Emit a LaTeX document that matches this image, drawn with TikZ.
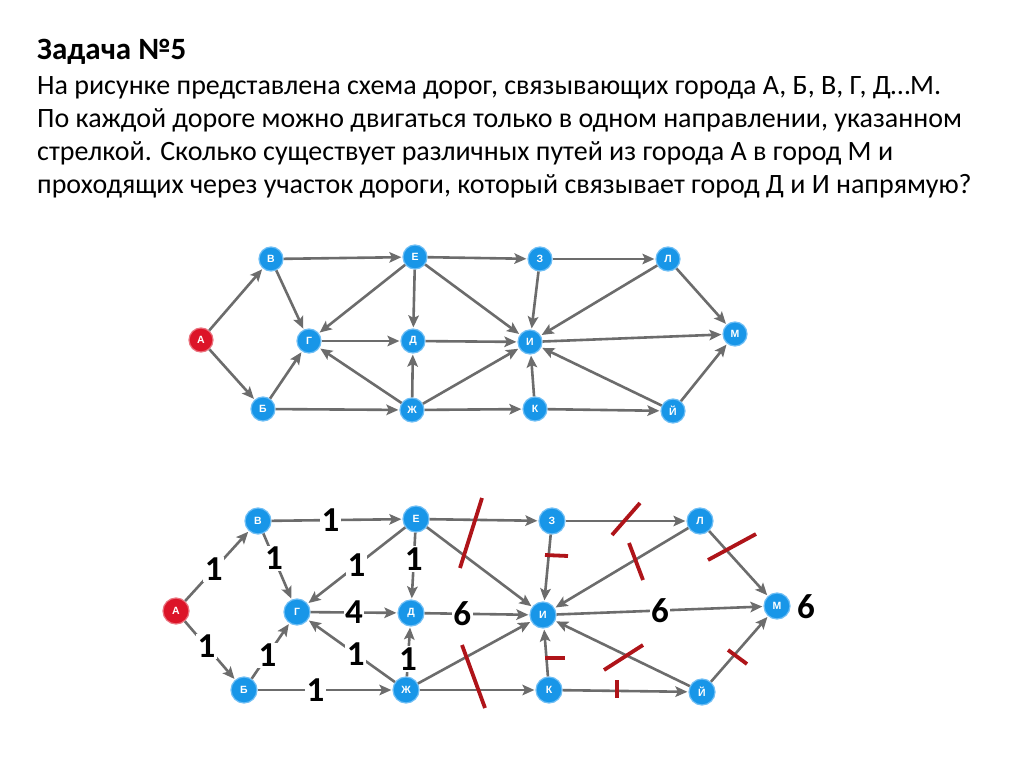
\documentclass[tikz,border=0pt]{standalone}
\usepackage{fontspec}
\setmainfont{Carlito}
\newfontfamily\letfont{Liberation Sans}
\usetikzlibrary{arrows.meta}
\definecolor{nodeblue}{RGB}{24,150,232}
\definecolor{noderim}{RGB}{110,190,245}
\definecolor{nodered}{RGB}{220,20,40}
\definecolor{edgegray}{RGB}{108,108,108}
\definecolor{markred}{RGB}{175,20,25}
\begin{document}
\begin{tikzpicture}[x=1pt,y=-1pt,
  city/.style={circle,fill=nodeblue,draw=noderim,line width=1.2pt,minimum size=24pt,inner sep=0pt,
    text=white,font=\letfont\fontsize{10.5}{10.5}\selectfont\bfseries},
  bigcity/.style={city,minimum size=26pt},
  startcity/.style={fill=nodered,draw=nodered!60!white},
  road/.style={draw=edgegray,line width=2.6pt,-{Stealth[length=12pt,width=10.5pt,inset=2.5pt]},shorten >=1pt},
  num/.style={fill=white,inner sep=1.5pt,font=\fontsize{35}{35}\selectfont\bfseries},
  cut/.style={draw=markred,line width=3.8pt},
  txt/.style={anchor=base west,inner sep=0pt,font=\fontsize{28}{28}\selectfont}
]
\useasboundingbox[fill=white] (0,0) rectangle (1024,767);
% ---------- text ----------
\node[txt,font=\fontsize{31}{31}\selectfont\bfseries] (t0) at (37,60) {Задача №5};
\node[txt] (t1) at (37,95) {На рисунке представлена схема дорог, связывающих города А, Б, В, Г, Д…М.};
\node[txt] (t2) at (37,128) {По каждой дороге можно двигаться только в одном направлении, указанном};
\node[txt] (t3) at (37,161) {стрелкой. Сколько существует различных путей из города А в город М и};
\node[txt] (t4) at (37,194) {проходящих через участок дороги, который связывает город Д и И напрямую?};
% ---------- top graph ----------
\node[city,startcity] (A) at (201,340) {А};
\node[city] (V) at (271,259) {В};
\node[city] (B) at (263,409) {Б};
\node[city] (G) at (309,341) {Г};
\node[city] (E) at (415,257) {Е};
\node[city] (D) at (413,341) {Д};
\node[city] (Zh) at (412,410) {Ж};
\node[city] (Z) at (540,259) {З};
\node[city] (I) at (530,342) {И};
\node[city] (K) at (535,409) {К};
\node[city] (L) at (668,259) {Л};
\node[city] (M) at (735,334) {М};
\node[city] (J) at (673,411) {Й};
\foreach \a/\b in {A/V,A/B,V/E,V/G,B/G,B/Zh,E/G,E/D,E/I,E/Z,G/D,Zh/G,Zh/D,Zh/I,Zh/K,D/I,Z/L,Z/I,L/I,L/M,I/M,K/I,K/J,J/I,J/M}
  \draw[road] (\a) -- (\b);
% ---------- bottom graph ----------
\node[bigcity,startcity] (a) at (176,611) {А};
\node[bigcity] (v) at (258,521) {В};
\node[bigcity] (b) at (244,690) {Б};
\node[bigcity] (g) at (297,612) {Г};
\node[bigcity] (e) at (416,519) {Е};
\node[bigcity] (d) at (411,613) {Д};
\node[bigcity] (zh) at (406,690) {Ж};
\node[bigcity] (z) at (552,521) {З};
\node[bigcity] (i) at (543,615) {И};
\node[bigcity] (k) at (549,690) {К};
\node[bigcity] (l) at (700,521) {Л};
\node[bigcity] (m) at (777,606) {М};
\node[bigcity] (j) at (702,692) {Й};
\draw[road] (a) -- node[num,pos=0.45] {1} (v);
\draw[road] (a) -- node[num,pos=0.43] {1} (b);
\draw[road] (v) -- node[num,pos=0.45] {1} (e);
\draw[road] (v) -- node[num,pos=0.38] {1} (g);
\draw[road] (b) -- node[num,pos=0.42] {1} (g);
\draw[road] (b) -- node[num,pos=0.43] {1} (zh);
\draw[road] (e) -- node[num,pos=0.5] {1} (g);
\draw[road] (e) -- node[num,pos=0.4] {1} (d);
\draw[road] (g) -- node[num,pos=0.5] {4} (d);
\draw[road] (zh) -- node[num,pos=0.45] {1} (g);
\draw[road] (zh) -- node[num,pos=0.35] {1} (d);
\draw[road] (d) -- node[num,pos=0.36] {6} (i);
\draw[road] (i) -- node[num,pos=0.5] {6} (m);
\foreach \a/\b in {e/i,e/z,zh/i,zh/k,z/l,z/i,l/i,l/m,k/i,k/j,j/i,j/m}
  \draw[road] (\a) -- (\b);
\node[num,anchor=west,fill=none,inner sep=0pt] (res) at (797,607) {6};
% ---------- red cut marks ----------
\draw[cut] (482,498) -- (460,568);
\draw[cut] (545,555) -- (568,556);
\draw[cut] (612,535) -- (640,503);
\draw[cut] (629,543) -- (643,580);
\draw[cut] (708,560) -- (756,534);
\draw[cut] (462,645) -- (485,708);
\draw[cut] (545,658) -- (565,658);
\draw[cut] (604,670) -- (643,645);
\draw[cut] (617,680) -- (617,698);
\draw[cut] (728,650) -- (747,664);
\end{tikzpicture}
\end{document}
